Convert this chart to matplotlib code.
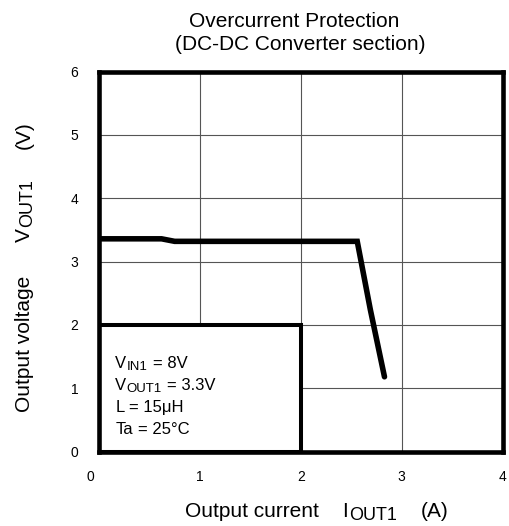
import matplotlib
matplotlib.use("Agg")
import matplotlib.pyplot as plt
from matplotlib.patches import Rectangle
from matplotlib.transforms import IdentityTransform, ScaledTranslation

plt.rcParams["font.family"] = "Liberation Sans"

# --- data ---
i_out = [0.0, 0.62, 0.75, 2.56, 2.69, 2.83]
v_out = [3.36, 3.36, 3.32, 3.32, 2.24, 1.18]

x_ticks = [0, 1, 2, 3, 4]
y_ticks = [0, 1, 2, 3, 4, 5, 6]

# conditions shown in the box: (main, subscript, rest)
cond_lines = [
    ("V", "IN1", "= 8V"),
    ("V", "OUT1", "= 3.3V"),
    ("L", "", "= 15\u03bcH"),
    ("Ta", "", "= 25°C"),
]

W, H = 509, 526
fig = plt.figure(figsize=(W / 100, H / 100), dpi=100)
renderer = fig.canvas.get_renderer()

# axes frame in pixels (left, right, top, bottom from the reference)
L, R, T, B = 99, 502.5, 71.7, 451.5
ax = fig.add_axes([L / W, (H - B) / H, (R - L) / W, (B - T) / H])


def rich(pieces, x0, y0, rotation=0, ha="left"):
    """pieces: list of (text, fontsize, drop_px, gap_before_px). Placed in pixel coords."""
    objs = []
    total = 0
    for s, fs, drop, gap in pieces:
        t = fig.text(0, 0, s, fontsize=fs, rotation=rotation, transform=IdentityTransform(),
                     ha="left", va="baseline", rotation_mode="anchor")
        bb = t.get_window_extent(renderer)
        w = bb.height if rotation == 90 else bb.width
        objs.append((t, w, drop, gap))
        total += gap + w
    pos = 0 if ha == "left" else -total / 2
    for t, w, drop, gap in objs:
        pos += gap
        if rotation == 90:
            t.set_position((x0 + drop, y0 + pos))
        else:
            t.set_position((x0 + pos, y0 - drop))
        pos += w


ax.set_xlim(0, 4)
ax.set_ylim(0, 6)
ax.set_xticks(x_ticks)
ax.set_yticks(y_ticks)
ax.tick_params(length=0, labelsize=10)
ax.tick_params(axis="x", pad=13)
ax.tick_params(axis="y", pad=15)
ax.grid(True, color="#555555", linewidth=0.8)
for s in ax.spines.values():
    s.set_linewidth(3.3)
    s.set_zorder(5)

# the "0" under the x axis sits a bit to the left in the reference
lbl0 = ax.get_xticklabels()[0]
lbl0.set_transform(lbl0.get_transform() + ScaledTranslation(-0.09, 0, fig.dpi_scale_trans))

ax.plot(i_out, v_out, color="black", linewidth=4.0, solid_capstyle="round",
        solid_joinstyle="miter", zorder=4)

# conditions box (lower left)
ax.add_patch(Rectangle((0, 0), 2, 2, facecolor="white", edgecolor="black",
                       linewidth=2.9, zorder=3))
bx, by = ax.transData.transform((0.16, 1.32))
for k, (main, sub, rest) in enumerate(cond_lines):
    pieces = [(main, 12, 0, 0)]
    if sub:
        pieces.append((sub, 9.5, 2, 0.5))
    pieces.append((rest, 12, 0, 5))
    rich(pieces, bx, by - k * 22)

# axis labels
rich([("Output current", 15, 0, 0), ("I", 15, 0, 23), ("OUT1", 13, 3, 1),
      ("(A)", 15, 0, 24)], 317, H - 517, ha="center")
rich([("Output voltage", 15, 0, 0), ("V", 15, 0, 34), ("OUT1", 13, 2, 1),
      ("(V)", 15, 0, 30)], 30, H - 412, rotation=90)

# title, two centred lines
fig.text(294, H - 27, "Overcurrent Protection", fontsize=15, ha="center",
         va="baseline", transform=IdentityTransform())
fig.text(300, H - 50, "(DC-DC Converter section)", fontsize=15, ha="center",
         va="baseline", transform=IdentityTransform())

fig.savefig("out.png", dpi=100)
